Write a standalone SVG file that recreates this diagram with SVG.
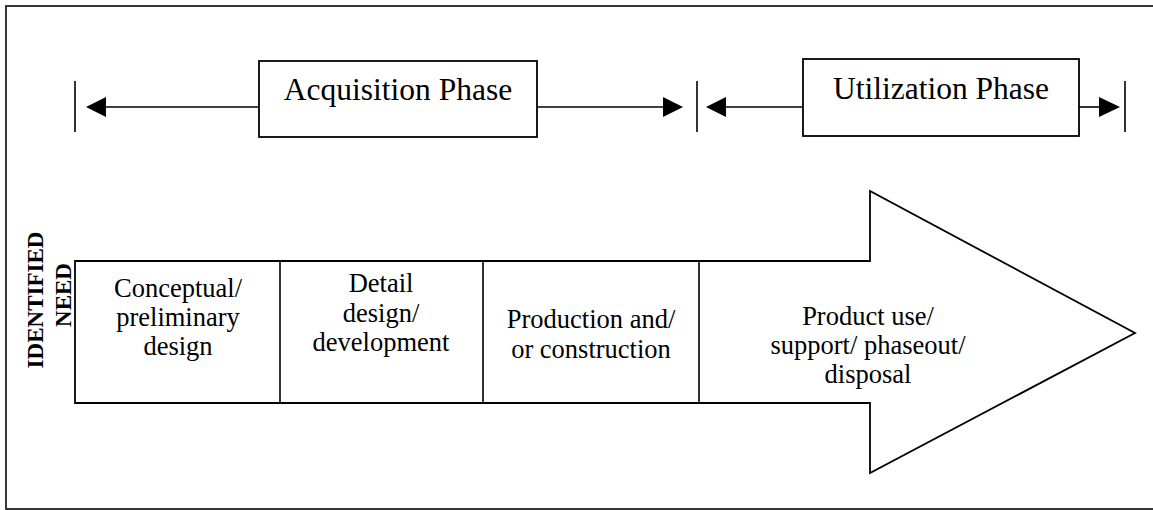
<svg xmlns="http://www.w3.org/2000/svg" width="1153" height="510" viewBox="0 0 1153 510">
<defs>
<style>
.ln{stroke:#000;stroke-width:1.6;fill:none}
.box{stroke:#000;stroke-width:1.8;fill:#fff}
.hd{font-family:"Liberation Serif","Times New Roman",serif;font-size:31.5px;fill:#000;text-anchor:middle}
.tx{font-family:"Liberation Serif","Times New Roman",serif;font-size:26.5px;fill:#000;text-anchor:middle}
.bd{font-family:"Liberation Serif","Times New Roman",serif;font-size:23px;font-weight:bold;fill:#000;text-anchor:middle}
.ah{fill:#000;stroke:none}
</style>
</defs>
<rect x="6" y="6" width="1170" height="503" fill="#fff" stroke="#222" stroke-width="1.8"/>
<g id="connectors">
<line class="ln" x1="75" y1="81" x2="75" y2="132"/>
<line class="ln" x1="697" y1="81" x2="697" y2="132"/>
<line class="ln" x1="1125" y1="81" x2="1125" y2="132"/>
<line class="ln" x1="104" y1="107" x2="259" y2="107"/>
<polygon class="ah" points="86,107 106,97 106,117"/>
<line class="ln" x1="537" y1="107" x2="665" y2="107"/>
<polygon class="ah" points="683,107 663,97 663,117"/>
<line class="ln" x1="724" y1="107" x2="803" y2="107"/>
<polygon class="ah" points="706,107 726,97 726,117"/>
<line class="ln" x1="1079" y1="107" x2="1101" y2="107"/>
<polygon class="ah" points="1120,107 1099,97 1099,117"/>
</g>
<g id="acquisition">
<rect class="box" x="259" y="61" width="278" height="76"/>
<text class="hd" x="398" y="100">Acquisition Phase</text>
</g>
<g id="utilization">
<rect class="box" x="803" y="59" width="276" height="77"/>
<text class="hd" x="941" y="99">Utilization Phase</text>
</g>
<g id="lifecycle-arrow">
<polygon class="box" points="75,261 870,261 870,191 1135,333 870,473 870,403 75,403"/>
<line class="ln" x1="280" y1="261" x2="280" y2="403"/>
<line class="ln" x1="483" y1="261" x2="483" y2="403"/>
<line class="ln" x1="699" y1="261" x2="699" y2="403"/>
</g>
<g id="identified-need">
<text class="bd" transform="translate(43,300) rotate(-90)">IDENTIFIED</text>
<text class="bd" transform="translate(71,295) rotate(-90)">NEED</text>
</g>
<g id="conceptual">
<text class="tx" x="178" y="297">Conceptual/</text>
<text class="tx" x="178" y="326">preliminary</text>
<text class="tx" x="178" y="355">design</text>
</g>
<g id="detail">
<text class="tx" x="381" y="292">Detail</text>
<text class="tx" x="381" y="322">design/</text>
<text class="tx" x="381" y="351">development</text>
</g>
<g id="production">
<text class="tx" x="591" y="328">Production and/</text>
<text class="tx" x="591" y="358">or construction</text>
</g>
<g id="product-use">
<text class="tx" x="868" y="325">Product use/</text>
<text class="tx" x="868" y="354">support/ phaseout/</text>
<text class="tx" x="868" y="383">disposal</text>
</g>
</svg>
